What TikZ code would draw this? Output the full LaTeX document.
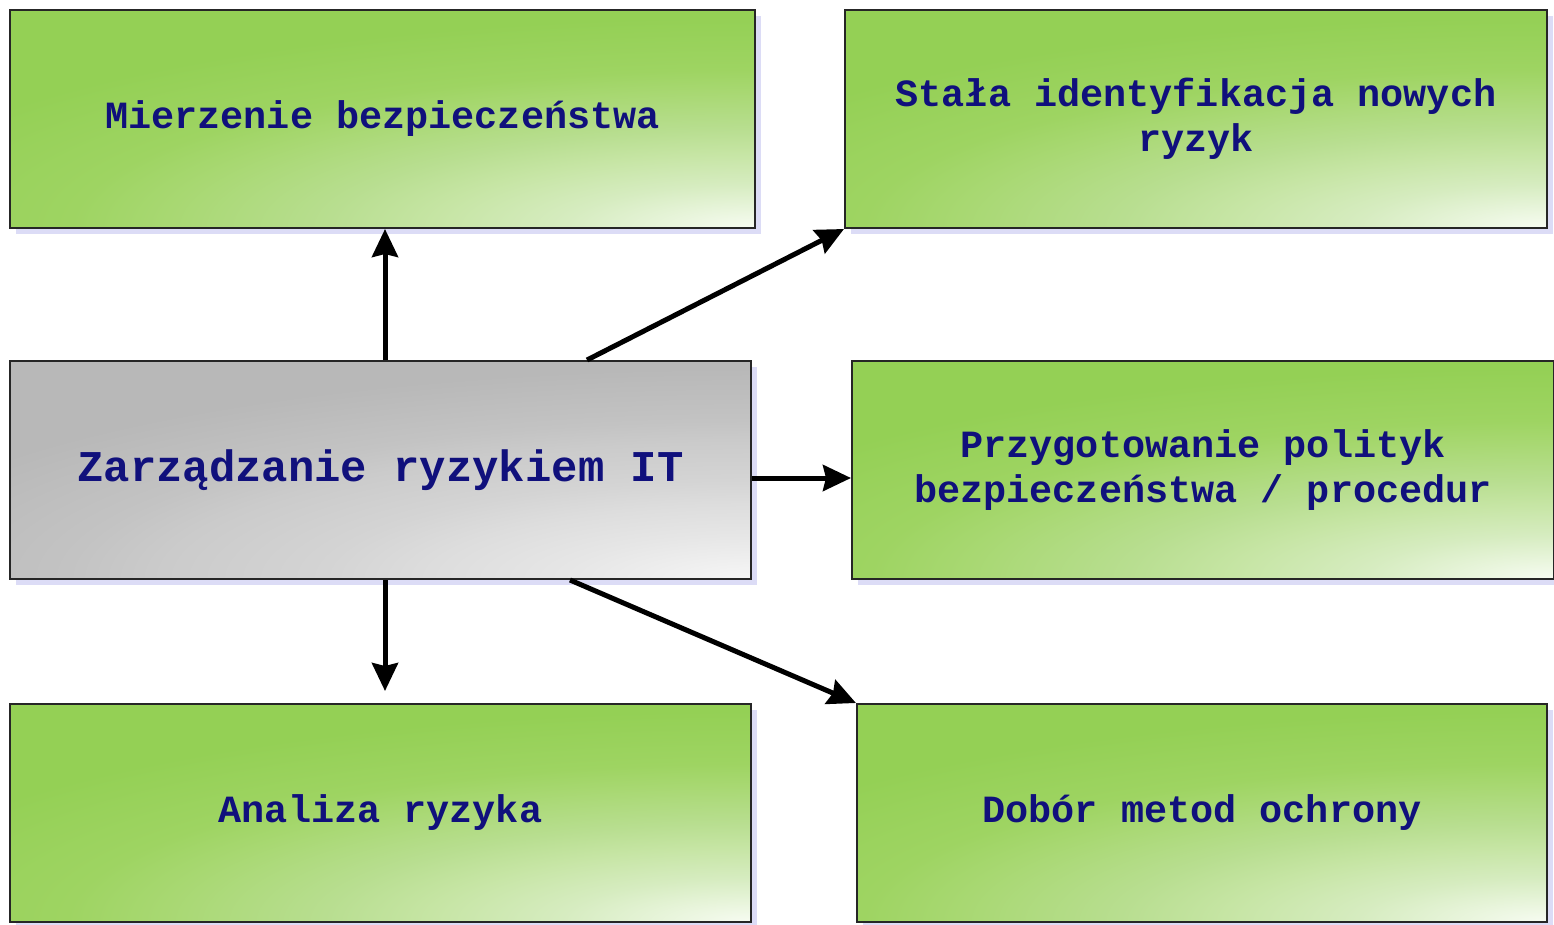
\documentclass[tikz,border=0pt]{standalone}
\usepackage{fontspec}
\setmonofont{Liberation Mono}
\usetikzlibrary{shadows,arrows.meta}
\definecolor{g0}{HTML}{F7FCF2}
\definecolor{g1}{HTML}{D6ECC0}
\definecolor{g2}{HTML}{C6E5A4}
\definecolor{g3}{HTML}{B8DE90}
\definecolor{g4}{HTML}{A8D872}
\definecolor{g5}{HTML}{9ED462}
\definecolor{g6}{HTML}{94D055}
\definecolor{k0}{HTML}{F6F6F6}
\definecolor{k1}{HTML}{E6E6E6}
\definecolor{k2}{HTML}{DDDDDD}
\definecolor{k3}{HTML}{D4D4D4}
\definecolor{k4}{HTML}{CBCBCB}
\definecolor{k5}{HTML}{C3C3C3}
\definecolor{k6}{HTML}{B8B8B8}
\definecolor{shadowc}{HTML}{DCDCF6}
\definecolor{navytext}{HTML}{10107C}
\pgfdeclareradialshading{greenshade}{\pgfpoint{0bp}{0bp}}{color(0bp)=(g0); color(5bp)=(g1); color(8.5bp)=(g2); color(11.25bp)=(g3); color(15.5bp)=(g4); color(18bp)=(g5); color(24bp)=(g6); color(50bp)=(g6)}
\pgfdeclareradialshading{grayshade}{\pgfpoint{0bp}{0bp}}{color(0bp)=(k0); color(5bp)=(k1); color(8.5bp)=(k2); color(11.25bp)=(k3); color(15.5bp)=(k4); color(18bp)=(k5); color(24bp)=(k6); color(50bp)=(k6)}
\tikzset{
  box/.style={draw=black!85, line width=2pt, inner sep=0pt, align=center,
    text=navytext, font=\fontsize{38.5}{45}\selectfont\ttfamily\bfseries,
    minimum height=218pt,
    drop shadow={shadow xshift=6pt, shadow yshift=-6pt, fill=shadowc, opacity=1}},
  gbox/.style={box, fill=g6, path picture={
    \shade[shading=greenshade] (path picture bounding box.south east) ellipse [x radius=950pt, y radius=220pt];}},
  kbox/.style={box, fill=k6, path picture={
    \shade[shading=grayshade] (path picture bounding box.south east) ellipse [x radius=950pt, y radius=220pt];},
    font=\fontsize{43.9}{50}\selectfont\ttfamily\bfseries},
  arr/.style={line width=5pt, -{Stealth[length=28pt,width=26pt,inset=3pt]}}
}
\begin{document}
\begin{tikzpicture}[x=1pt,y=-1pt]
\useasboundingbox (0,0) rectangle (1554,924);
\node[gbox, minimum width=745pt] (m) at (382.5,119) {Mierzenie bezpieczeństwa};
\node[gbox, minimum width=702pt] (tr) at (1196,119) {Stała identyfikacja nowych\\ryzyk};
\node[kbox, minimum width=741pt] (c) at (380.5,470) {Zarządzanie ryzykiem IT};
\node[gbox, minimum width=702pt] (pr) at (1203,470) {Przygotowanie polityk\\bezpieczeństwa / procedur};
\node[gbox, minimum width=741pt] (a) at (380.5,813) {Analiza ryzyka};
\node[gbox, minimum width=690pt] (dr) at (1202,813) {Dobór metod ochrony};
\draw[arr] ([xshift=4.5pt]c.north) -- ([xshift=2.5pt]m.south);
\draw[arr] ([xshift=206.5pt]c.north) -- (tr.south west);
\draw[arr] ([yshift=-8pt]c.east) -- ([yshift=-8pt]pr.west);
\draw[arr] ([xshift=4.5pt]c.south) -- ([xshift=4.5pt,yshift=12pt]a.north);
\draw[arr] ([xshift=189.5pt]c.south) -- (dr.north west);
\end{tikzpicture}
\end{document}
